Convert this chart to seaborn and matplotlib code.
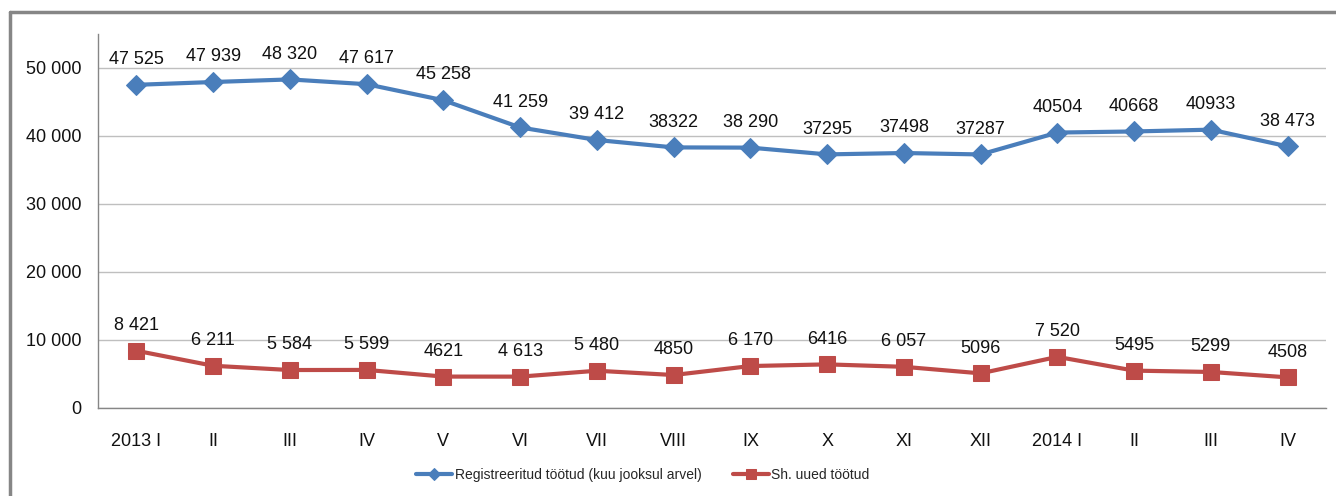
import numpy as np
import pandas as pd
import matplotlib
matplotlib.use("Agg")
import matplotlib.pyplot as plt
import matplotlib.ticker as mticker
import seaborn as sns

# --- datos ---
kuud = ["2013 I", "II", "III", "IV", "V", "VI", "VII", "VIII", "IX", "X",
        "XI", "XII", "2014 I", "II", "III", "IV"]
registreeritud = [47525, 47939, 48320, 47617, 45258, 41259, 39412, 38322,
                  38290, 37295, 37498, 37287, 40504, 40668, 40933, 38473]
uued = [8421, 6211, 5584, 5599, 4621, 4613, 5480, 4850,
        6170, 6416, 6057, 5096, 7520, 5495, 5299, 4508]
# etiquetas tal como aparecen (formato mixto)
reg_labels = ["47 525", "47 939", "48 320", "47 617", "45 258", "41 259", "39 412", "38322",
              "38 290", "37295", "37498", "37287", "40504", "40668", "40933", "38 473"]
uued_labels = ["8 421", "6 211", "5 584", "5 599", "4621", "4 613", "5 480", "4850",
               "6 170", "6416", "6 057", "5096", "7 520", "5495", "5299", "4508"]

sns.set_style("white")
plt.rcParams['font.family'] = ['Liberation Sans', 'DejaVu Sans']

azul = "#4A7EBB"
rojo = "#BE4B48"
gris = "#868686"

df = pd.DataFrame({"pos": np.arange(len(kuud)),
                   "reg": registreeritud, "uued": uued})

fig = plt.figure(figsize=(13.36, 4.96), dpi=100)
ax = fig.add_axes([98/1336, 1 - 408/496, 1228/1336, 374/496])

sns.lineplot(data=df, x="pos", y="reg", ax=ax, color=azul, lw=3,
             marker="D", markersize=10.5, markeredgecolor=azul,
             label="Registreeritud töötud (kuu jooksul arvel)")
sns.lineplot(data=df, x="pos", y="uued", ax=ax, color=rojo, lw=3,
             marker="s", markersize=11, markeredgecolor=rojo,
             label="Sh. uued töötud")

for x, y, t in zip(df["pos"], registreeritud, reg_labels):
    ax.annotate(t, (x, y), xytext=(0, 15), textcoords="offset points",
                ha="center", va="baseline", fontsize=13, color="#111111")
for x, y, t in zip(df["pos"], uued, uued_labels):
    ax.annotate(t, (x, y), xytext=(0, 15), textcoords="offset points",
                ha="center", va="baseline", fontsize=13, color="#111111")

ax.set_xlim(-0.5, len(kuud) - 0.5)
ax.set_ylim(0, 55000)
ax.set_yticks(np.arange(0, 50001, 10000))
ax.yaxis.set_major_formatter(mticker.FuncFormatter(lambda v, p: f"{int(v):,}".replace(",", " ")))
ax.set_xticks(df["pos"])
ax.set_xticklabels(kuud)
ax.set_xticks(np.arange(-0.5, len(kuud), 1), minor=True)
ax.tick_params(axis="x", which="major", length=0, pad=18, labelsize=13, labelcolor="#111111")
ax.tick_params(axis="x", which="minor", length=7, color=gris, direction="out")
ax.tick_params(axis="y", length=8, color=gris, direction="out", labelsize=13, pad=4,
               labelcolor="#111111")
ax.set_xlabel("")
ax.set_ylabel("")

ax.yaxis.grid(True, color="#BFBFBF", lw=1)
ax.set_axisbelow(True)
for s in ["top", "right"]:
    ax.spines[s].set_visible(False)
for s in ["left", "bottom"]:
    ax.spines[s].set_color(gris)
    ax.spines[s].set_linewidth(1)

ax.legend(loc="center", bbox_to_anchor=(643/1336, 1 - 475/496),
          bbox_transform=fig.transFigure, ncol=2, frameon=False,
          fontsize=10, handlelength=2.6, markerscale=0.6, columnspacing=2.3,
          handletextpad=0.15)

# borde del gráfico (recortado a la derecha y abajo)
fig.add_artist(plt.Line2D([10/1336, 10/1336], [0, 1 - 12/496], color=gris, lw=2.5,
                          transform=fig.transFigure))
fig.add_artist(plt.Line2D([10/1336, 1], [1 - 12/496, 1 - 12/496], color=gris, lw=2.5,
                          transform=fig.transFigure))

fig.savefig("out.png", dpi=100)
